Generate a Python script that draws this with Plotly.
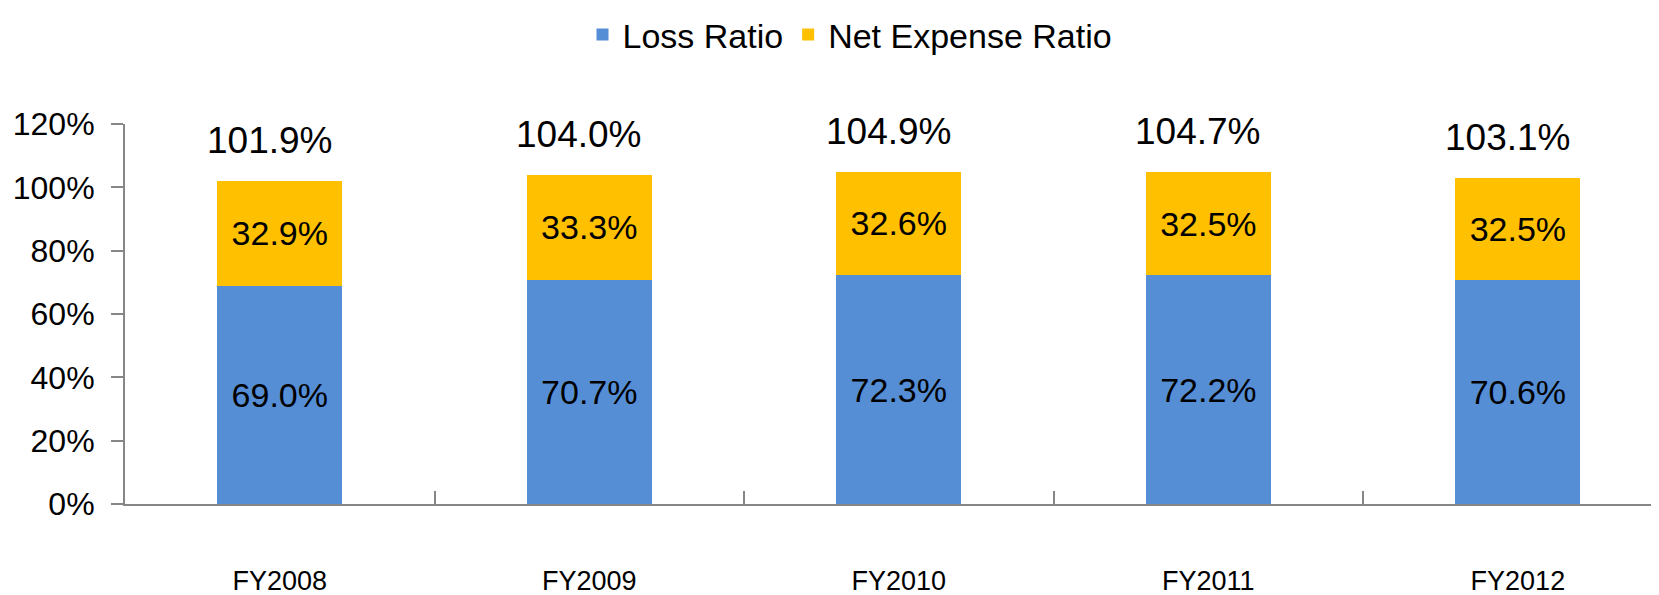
import plotly.graph_objects as go

categories = ["FY2008", "FY2009", "FY2010", "FY2011", "FY2012"]
loss_ratio = [69.0, 70.7, 72.3, 72.2, 70.6]
net_expense_ratio = [32.9, 33.3, 32.6, 32.5, 32.5]
combined_ratio = [101.9, 104.0, 104.9, 104.7, 103.1]
y_ticks = [0, 20, 40, 60, 80, 100, 120]

FONT = "Liberation Sans, Arial, sans-serif"
BLUE = "#558ED5"
ORANGE = "#FFC000"
AXIS = "#868686"

fig = go.Figure()
fig.add_trace(go.Bar(
    x=categories, y=loss_ratio, name="Loss Ratio",
    marker=dict(color=BLUE, line=dict(width=0)),
    text=[f"{v:.1f}%" for v in loss_ratio], textposition="inside",
    insidetextanchor="middle", textangle=0,
    textfont=dict(family=FONT, size=34, color="black"),
    width=0.404,
))
fig.add_trace(go.Bar(
    x=categories, y=net_expense_ratio, name="Net Expense Ratio",
    marker=dict(color=ORANGE, line=dict(width=0)),
    text=[f"{v:.1f}%" for v in net_expense_ratio], textposition="inside",
    insidetextanchor="middle", textangle=0,
    textfont=dict(family=FONT, size=34, color="black"),
    width=0.404,
))

for c, t in zip(categories, combined_ratio):
    fig.add_annotation(x=c, y=t, text=f"{t:.1f}%", showarrow=False,
                       yanchor="bottom", yshift=18, xshift=-10,
                       font=dict(family=FONT, size=37, color="black"))

# the page body adds an 8px offset, so the figure is sized to fill the rest
fig.update_layout(
    barmode="stack",
    width=1651, height=587,
    margin=dict(l=117, r=0, t=116, b=91, autoexpand=False),
    paper_bgcolor="white", plot_bgcolor="white",
    uniformtext=dict(mode=False),
    legend=dict(orientation="h", xref="container", yref="container",
                x=0.51, xanchor="center", y=0.954, yanchor="middle",
                font=dict(family=FONT, size=34, color="black"),
                traceorder="normal", itemsizing="constant"),
    showlegend=True,
)
fig.update_xaxes(
    type="category", range=[-0.5, 4.456], automargin=False,
    showline=True, linecolor=AXIS, linewidth=2,
    ticks="inside", tickson="boundaries", ticklen=13, tickcolor=AXIS, tickwidth=2,
    tickfont=dict(family=FONT, size=27, color="black"),
    ticklabelstandoff=52,
    showgrid=False, zeroline=False,
)
fig.update_yaxes(
    range=[0, 120], tickvals=y_ticks, ticktext=[f"{v}%" for v in y_ticks],
    automargin=False,
    showline=True, linecolor=AXIS, linewidth=2,
    ticks="outside", ticklen=12, tickcolor=AXIS, tickwidth=2,
    tickfont=dict(family=FONT, size=32, color="black"),
    ticklabelstandoff=10,
    showgrid=False, zeroline=False,
)

fig.write_html("out.html")
